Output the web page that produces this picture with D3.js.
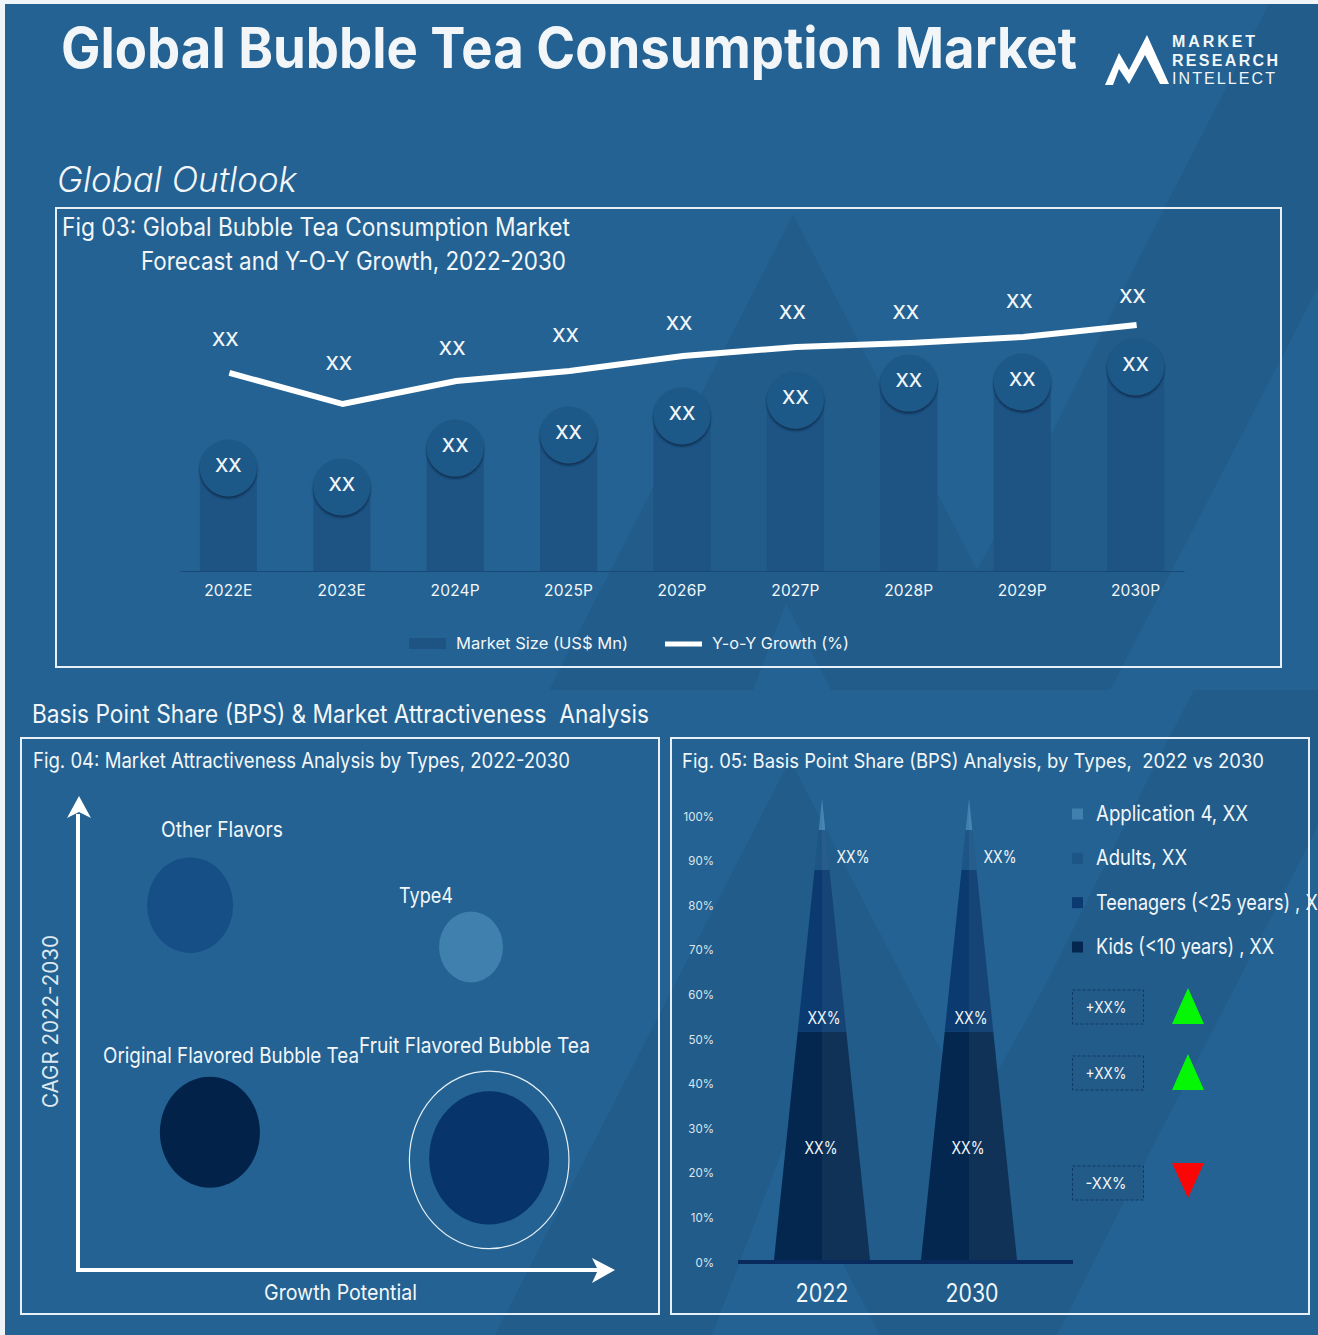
<!DOCTYPE html>
<html>
<head>
<meta charset="utf-8">
<title>Global Bubble Tea Consumption Market</title>
<script src="https://cdn.jsdelivr.net/npm/d3@7/dist/d3.min.js"></script>
<style>
  html, body { margin: 0; padding: 0; background: #eef4f8; overflow: hidden; }
  svg { display: block; }
  text { font-family: Inter, "Open Sans", sans-serif; fill: #f2f6f9; }
</style>
</head>
<body>
<svg id="chart" width="1318" height="1335"></svg>
<script>
// Fig 03: market size and growth by year
const years = ["2022E", "2023E", "2024P", "2025P", "2026P", "2027P", "2028P", "2029P", "2030P"];
const marketSize = [36.8, 30, 43.9, 48.6, 55.4, 61, 67.1, 67.5, 72.9];
const yoyGrowth = [39.2, 13.3, 32.5, 40.8, 53.3, 60.8, 64.2, 69.2, 79.2];

// Fig 04: attractiveness bubbles
const flavorNames = ["Other Flavors", "Type4", "Original Flavored Bubble Tea", "Fruit Flavored Bubble Tea"];
const flavorGrowth = [21, 73.6, 24.7, 77];
const flavorCagr = [76.8, 68, 29, 23.6];
const flavorRadius = [43, 32, 50, 60];
const flavorColors = ["#164f85", "#3f80ae", "#03224a", "#07346a"];

// Fig 05: share stacks by type
const shareYears = ["2022", "2030"];
const shareTypes = ["Kids (<10 years) , XX", "Teenagers (<25 years) , XX", "Adults, XX", "Application 4, XX"];
const shareValues = [49.4, 35, 8.7, 6.9];
const shareColors = ["#04274f", "#0a3a70", "#1c5586", "#3f80ae"];
const shareTicks = [0, 10, 20, 30, 40, 50, 60, 70, 80, 90, 100];
const changeLabels = ["+XX%", "+XX%", "-XX%"];
const changeSigns = [1, 1, -1];

const svg = d3.select("#chart");
const BG = "#236292", SHADE = "#215c8b", BAR = "#1d5484", EDGE = "#e6f0f6";

// Text helper: every label is fitted to a set width so the layout stays stable across fonts.
function label(parent, str, x, y, size, width, o = {}) {
  const t = parent.append("text").attr("x", x).attr("y", y)
    .attr("font-size", size)
    .attr("font-weight", o.weight || 400)
    .attr("text-anchor", o.anchor || "start")
    .text(str);
  if (width) t.attr("textLength", width).attr("lengthAdjust", o.adjust || "spacingAndGlyphs");
  if (o.style) t.attr("font-style", o.style);
  if (o.family) t.style("font-family", o.family);
  if (o.fill) t.style("fill", o.fill);
  if (o.transform) t.attr("transform", o.transform);
  return t;
}

const defs = svg.append("defs");
const shadow = defs.append("filter").attr("id", "discShadow")
  .attr("x", "-20%").attr("y", "-20%").attr("width", "140%").attr("height", "140%");
shadow.append("feDropShadow").attr("dx", 0).attr("dy", 2).attr("stdDeviation", 1)
  .attr("flood-color", "#0b2a4a").attr("flood-opacity", 0.9);
defs.append("clipPath").attr("id", "upperBg").append("rect")
  .attr("x", 5).attr("y", 4).attr("width", 1313).attr("height", 686);
defs.append("clipPath").attr("id", "lowerBg").append("rect")
  .attr("x", 5).attr("y", 690).attr("width", 1313).attr("height", 645);
defs.append("clipPath").attr("id", "pageEdge").append("rect")
  .attr("x", 0).attr("y", 0).attr("width", 1318).attr("height", 1335);

// Page background with the two tone-on-tone mountain watermarks
svg.append("rect").attr("x", 5).attr("y", 4).attr("width", 1313).attr("height", 1331).attr("fill", BG);
const mountain = "M793,215 L977,570 L1050,437 L1133,270 L1269,4 L1400,4 L1318,287 L1110,690 L1060,790 L883,790 L786,603 L715,790 L498,790 Z";
svg.append("g").attr("clip-path", "url(#upperBg)").append("path").attr("d", mountain).attr("fill", SHADE);
svg.append("g").attr("clip-path", "url(#lowerBg)").append("path").attr("d", mountain)
  .attr("transform", "translate(-3,545)").attr("fill", SHADE);

// Header
label(svg, "Global Bubble Tea Consumption Market", 61, 68, 56, 1016, { weight: 700 });
svg.append("path").attr("fill", "#fff")
  .attr("d", "M1105,85 L1119,53 L1129,70 L1147,35 L1169,84 L1160,84 L1145,55 L1129,84 L1119,69 L1113,85 Z");
const logoFont = { weight: 700, family: "'Liberation Sans'", adjust: "spacing" };
label(svg, "MARKET", 1172, 47, 16, 83, logoFont);
label(svg, "RESEARCH", 1172, 66, 16, 106, logoFont);
label(svg, "INTELLECT", 1172, 84, 16, 103, { weight: 400, family: "'Liberation Sans'", adjust: "spacing" });
label(svg, "Global Outlook", 57, 192, 35, 240, { style: "italic", weight: 300 });

// Panel frames
const frames = svg.append("g").attr("fill", "none").attr("stroke", EDGE).attr("stroke-width", 2);
frames.append("rect").attr("x", 56).attr("y", 208).attr("width", 1225).attr("height", 459);
frames.append("rect").attr("x", 21).attr("y", 738).attr("width", 638).attr("height", 576);
frames.append("rect").attr("x", 671).attr("y", 738).attr("width", 638).attr("height", 576);

// Fig 03 ---------------------------------------------------------------
const fig3 = svg.append("g");
label(fig3, "Fig 03: Global Bubble Tea Consumption Market", 62, 236, 25, 508);
label(fig3, "Forecast and Y-O-Y Growth, 2022-2030", 141, 270, 25, 425);

const x3 = d3.scaleBand().domain(years).range([180, 1184]).paddingInner(0.497).paddingOuter(0.175);
const y3 = d3.scaleLinear().domain([0, 100]).range([571, 291]);
const g3 = d3.scaleLinear().domain([0, 100]).range([420, 300]);
const mid3 = d => x3(d) + x3.bandwidth() / 2;

fig3.selectAll("rect.bar").data(years).join("rect").attr("class", "bar")
  .attr("x", d => x3(d)).attr("width", x3.bandwidth())
  .attr("y", (d, i) => y3(marketSize[i]))
  .attr("height", (d, i) => y3(0) - y3(marketSize[i]))
  .attr("fill", BAR);

fig3.selectAll("circle.disc").data(years).join("circle").attr("class", "disc")
  .attr("cx", mid3).attr("cy", (d, i) => y3(marketSize[i])).attr("r", 28.5)
  .attr("fill", "#1f5888").attr("filter", "url(#discShadow)");

fig3.selectAll("text.barval").data(years).join("text").attr("class", "barval")
  .attr("x", mid3).attr("y", (d, i) => y3(marketSize[i]) + 4)
  .attr("text-anchor", "middle").attr("font-size", 19).attr("font-weight", 500).text("XX");

const xAxis3 = fig3.append("g").attr("transform", "translate(0,571)")
  .call(d3.axisBottom(x3).tickSize(0).tickPadding(14));
xAxis3.select(".domain").attr("stroke", "#174a78").attr("stroke-width", 1);
xAxis3.selectAll("text").attr("font-size", 15.5).attr("font-family", null).style("letter-spacing", "0.2px");

const growthLine = d3.line().x((d, i) => mid3(years[i]) + 1).y(d => g3(d));
fig3.append("path").datum(yoyGrowth).attr("d", growthLine)
  .attr("fill", "none").attr("stroke", "#fff").attr("stroke-width", 6);

// Label lift above the line varies a little from year to year
const growthLift = [27, 34, 26, 29, 26, 28, 24, 29, 22];
fig3.selectAll("text.growthval").data(years).join("text").attr("class", "growthval")
  .attr("x", d => mid3(d) - 3).attr("y", (d, i) => g3(yoyGrowth[i]) - growthLift[i])
  .attr("text-anchor", "middle").attr("font-size", 19).attr("font-weight", 500).text("XX");

fig3.append("rect").attr("x", 409).attr("y", 638).attr("width", 37).attr("height", 11).attr("fill", BAR);
label(fig3, "Market Size (US$ Mn)", 456, 649, 16, 172);
fig3.append("line").attr("x1", 665).attr("x2", 702).attr("y1", 644).attr("y2", 644)
  .attr("stroke", "#fff").attr("stroke-width", 5);
label(fig3, "Y-o-Y Growth (%)", 712, 649, 16, 137);

// Section heading
label(svg, "Basis Point Share (BPS) & Market Attractiveness  Analysis", 32, 723, 25, 617).attr("xml:space", "preserve");

// Fig 04 ---------------------------------------------------------------
const fig4 = svg.append("g");
label(fig4, "Fig. 04: Market Attractiveness Analysis by Types, 2022-2030", 33, 768, 21, 537);

const x4 = d3.scaleLinear().domain([0, 100]).range([78, 612]);
const y4 = d3.scaleLinear().domain([0, 100]).range([1270, 795]);

fig4.selectAll("ellipse.bubble").data(flavorNames).join("ellipse").attr("class", "bubble")
  .attr("cx", (d, i) => x4(flavorGrowth[i])).attr("cy", (d, i) => y4(flavorCagr[i]))
  .attr("rx", (d, i) => flavorRadius[i]).attr("ry", (d, i) => flavorRadius[i] * 1.11)
  .attr("fill", (d, i) => flavorColors[i]);

// Halo around the largest bubble
const lead = flavorRadius.indexOf(d3.max(flavorRadius));
fig4.append("ellipse").attr("cx", x4(flavorGrowth[lead])).attr("cy", y4(flavorCagr[lead]) + 2)
  .attr("rx", flavorRadius[lead] * 1.33).attr("ry", flavorRadius[lead] * 1.48)
  .attr("fill", "none").attr("stroke", EDGE).attr("stroke-width", 1.2);

label(fig4, flavorNames[0], 161, 837, 22, 122);
label(fig4, flavorNames[1], 399, 903, 22, 54);
label(fig4, flavorNames[2], 103, 1063, 22, 256);
label(fig4, flavorNames[3], 359, 1053, 22, 231);

fig4.append("path").attr("fill", "none").attr("stroke", "#fff").attr("stroke-width", 4)
  .attr("d", "M" + x4(0) + "," + y4(96) + " V" + y4(0) + " H" + x4(98));
fig4.append("path").attr("fill", "#fff").attr("d", "M79,796 L91,818 L79,812 L67,818 Z");
fig4.append("path").attr("fill", "#fff").attr("d", "M615,1270 L592,1258 L598,1270 L592,1283 Z");
label(fig4, "Growth Potential", 264, 1300, 22, 153);
label(fig4, "CAGR 2022-2030", 0, 0, 21, 173, { transform: "translate(58,1108) rotate(-90)", fill: "#dfe8ef" });

// Fig 05 ---------------------------------------------------------------
const fig5 = svg.append("g");
label(fig5, "Fig. 05: Basis Point Share (BPS) Analysis, by Types,  2022 vs 2030", 682, 768, 20, 582).attr("xml:space", "preserve");

const tickY = d3.scaleLinear().domain([0, 100]).range([1262.5, 816.5]);
const yAxis5 = fig5.append("g").attr("transform", "translate(714,0)")
  .call(d3.axisLeft(tickY).tickValues(shareTicks).tickSize(0).tickPadding(0).tickFormat(d => d + "%"));
yAxis5.select(".domain").remove();
yAxis5.selectAll("text").attr("font-size", 11.5).attr("font-family", null).style("fill", "#dce7ef");

const x5 = d3.scalePoint().domain(shareYears).range([822, 969]);
const y5 = d3.scaleLinear().domain([0, 100]).range([1260, 798]);
const halfWidth = d3.scaleLinear().domain([0, 100]).range([48, 0]);

// Cumulative bounds of the stack, bottom segment first
const stack = shareValues.map((v, i) => ({
  color: shareColors[i],
  lo: d3.sum(shareValues.slice(0, i)),
  hi: d3.sum(shareValues.slice(0, i + 1)),
}));

const outline = d3.line();
shareYears.forEach(year => {
  const cx = x5(year);
  const g = fig5.append("g");
  stack.forEach(s => {
    const corners = [
      [cx - halfWidth(s.lo), y5(s.lo)], [cx + halfWidth(s.lo), y5(s.lo)],
      [cx + halfWidth(s.hi), y5(s.hi)], [cx - halfWidth(s.hi), y5(s.hi)],
    ];
    g.append("path").attr("d", outline(corners) + "Z").attr("fill", s.color);
    // Lit right-hand face of the cone
    const face = [[cx, y5(s.lo)], corners[1], corners[2], [cx, y5(s.hi)]];
    g.append("path").attr("d", outline(face) + "Z").attr("fill", "#fff").attr("opacity", 0.05);
  });
  const note = (dx, y) => label(g, "XX%", cx + dx, y, 17, 33, { anchor: "middle" });
  note(-1, 1154);
  note(2, 1024);
  note(31, 863);
});

fig5.append("rect").attr("x", 738).attr("y", 1260).attr("width", 335).attr("height", 4).attr("fill", "#082a5c");
shareYears.forEach(year => {
  label(fig5, year, x5(year) + (year === "2030" ? 3 : 0), 1302, 25, 53, { anchor: "middle" });
});

// Legend, top entry first
const legendOrder = d3.range(shareTypes.length).reverse();
const legendY = d3.scalePoint().domain(legendOrder).range([814, 947]);
const legendWidth = { 3: 152, 2: 91, 1: 234, 0: 178 };
const legendG = fig5.append("g").attr("clip-path", "url(#pageEdge)");
legendOrder.forEach(i => {
  legendG.append("rect").attr("x", 1072).attr("y", legendY(i) - 5.5).attr("width", 11).attr("height", 11)
    .attr("fill", shareColors[i]);
  label(legendG, shareTypes[i], 1096, legendY(i) + 7, 22, legendWidth[i]);
});

// Change callouts with direction markers
const boxTop = [990, 1056, 1166];
changeLabels.forEach((txt, i) => {
  const top = boxTop[i];
  fig5.append("rect").attr("x", 1072.5).attr("y", top).attr("width", 71).attr("height", 34)
    .attr("fill", "#225a88").attr("stroke", "#123a68").attr("stroke-dasharray", "3,2");
  label(fig5, txt, 1106, top + 23, 16.5, txt.length * 10.2, { anchor: "middle" });
  const pts = changeSigns[i] > 0
    ? [[1188, top - 2], [1172, top + 34], [1204, top + 34]]
    : [[1172, top - 3], [1204, top - 3], [1188, top + 32]];
  fig5.append("path").attr("d", outline(pts) + "Z").attr("fill", changeSigns[i] > 0 ? "#05f705" : "#fb0606");
});
</script>
</body>
</html>
